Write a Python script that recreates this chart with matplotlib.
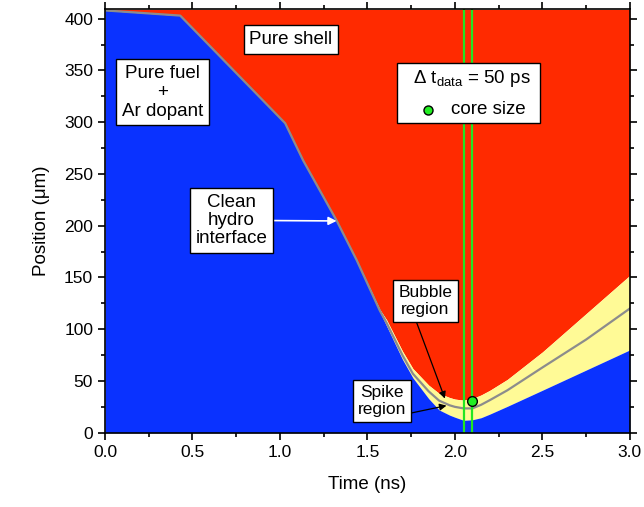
import matplotlib
matplotlib.use('Agg')
import matplotlib.pyplot as plt
from matplotlib.patches import Rectangle
from matplotlib.ticker import MultipleLocator

plt.rcParams['font.family'] = ['Liberation Sans', 'DejaVu Sans']
plt.rcParams['mathtext.default'] = 'regular'

# Time (ns) and boundary positions (um)
time = [0.0, 0.43, 1.03, 1.133, 1.324, 1.438, 1.571, 1.61, 1.7, 1.76,
        1.85, 1.91, 1.97, 2.0, 2.05, 2.1, 2.15, 2.2, 2.3, 2.5, 2.75, 3.0]
interface = [408, 403, 299, 263, 205, 167, 118, 106, 75, 57,
             40, 31, 26.5, 25, 23.5, 23.5, 27, 31.5, 41, 63, 90, 120]
spike_top = [408, 403, 299, 263, 205, 167, 117, 103, 71, 53,
             33, 22, 17, 15, 12, 12.5, 14.5, 18, 25.5, 41, 60.5, 80]
bubble_bottom = [408, 403, 299, 263, 205, 167, 119, 109, 79, 62,
                 46, 38, 34, 32.5, 31.5, 33, 36.5, 41, 51.5, 78, 115, 152]

data_times = [2.05, 2.1]
core_time = 2.1
core_pos = 31
y_top = 409

fig = plt.figure(figsize=(6.44, 5.07), dpi=100)
ax = fig.add_axes([0.163, 0.1465, 0.815, 0.835])

ax.fill_between(time, bubble_bottom, y_top, color='#ff2a00', lw=0, zorder=1)
ax.fill_between(time, spike_top, bubble_bottom, color='#fffa96', lw=0, zorder=1)
ax.fill_between(time, 0, spike_top, color='#0a32ff', lw=0, zorder=1)
ax.plot(time, interface, color='#8c8c8c', lw=1.6, zorder=2)

for t in data_times:
    ax.axvline(t, color='#22e622', lw=1.6, zorder=3)
ax.plot(core_time, core_pos, 'o', ms=7, mfc='#22ee22', mec='black', mew=1, zorder=4)

box = dict(boxstyle='square,pad=0.3', fc='white', ec='black', lw=1)
ax.text(1.063, 380, 'Pure shell', fontsize=13.5, ha='center', va='center', bbox=box, zorder=5)
ax.text(0.329, 329, 'Pure fuel\n+\nAr dopant', fontsize=13.5, ha='center', va='center',
        linespacing=1.15, bbox=box, zorder=5)
ax.annotate('Clean\nhydro\ninterface', xy=(1.324, 204.6), xytext=(0.722, 205),
            fontsize=13.5, ha='center', va='center', linespacing=1.1, bbox=box, zorder=5,
            arrowprops=dict(arrowstyle='-|>', color='white', lw=1.2, relpos=(1, 0.5),
                            shrinkA=0, shrinkB=0, mutation_scale=12))
ax.annotate('Bubble\nregion', xy=(1.943, 33), xytext=(1.831, 127.3),
            fontsize=12.5, ha='center', va='center', linespacing=1.15, bbox=box, zorder=5,
            arrowprops=dict(arrowstyle='-|>', color='black', lw=0.9, relpos=(0.3, 0),
                            shrinkA=0, shrinkB=0, mutation_scale=10))
ax.annotate('Spike\nregion', xy=(1.952, 26.2), xytext=(1.583, 30.3),
            fontsize=12.5, ha='center', va='center', linespacing=1.15, bbox=box, zorder=5,
            arrowprops=dict(arrowstyle='-|>', color='black', lw=0.9, relpos=(1, 0.1),
                            shrinkA=0, shrinkB=0, mutation_scale=10))

# legend-like box
ax.add_patch(Rectangle((1.667, 299.6), 0.819, 57.9, fc='white', ec='black', lw=1, zorder=5))
ax.text(1.76, 342, r'$\Delta$ t$_{data}$ = 50 ps', fontsize=13.5, ha='left', va='center', zorder=6)
ax.plot(1.847, 312, 'o', ms=6.5, mfc='#22ee22', mec='black', mew=1, zorder=6)
ax.text(1.975, 312, 'core size', fontsize=13.5, ha='left', va='center', zorder=6)

ax.set_xlim(0, 3.0)
ax.set_ylim(0, y_top)
ax.xaxis.set_major_locator(MultipleLocator(0.5))
ax.xaxis.set_minor_locator(MultipleLocator(0.25))
ax.yaxis.set_major_locator(MultipleLocator(50))
ax.yaxis.set_minor_locator(MultipleLocator(25))
ax.xaxis.set_major_formatter(plt.FormatStrFormatter('%.1f'))
ax.tick_params(which='both', direction='out', top=True, right=True, width=1.2,
               labelsize=12.5)
ax.tick_params(which='major', length=5)
ax.tick_params(which='minor', length=3)
for s in ax.spines.values():
    s.set_linewidth(1.2)
    s.set_zorder(10)

ax.set_xlabel('Time (ns)', fontsize=13.5, labelpad=12)
ax.set_ylabel('Position (\u03bcm)', fontsize=13.5, labelpad=10)

fig.savefig('out.png', dpi=100)
